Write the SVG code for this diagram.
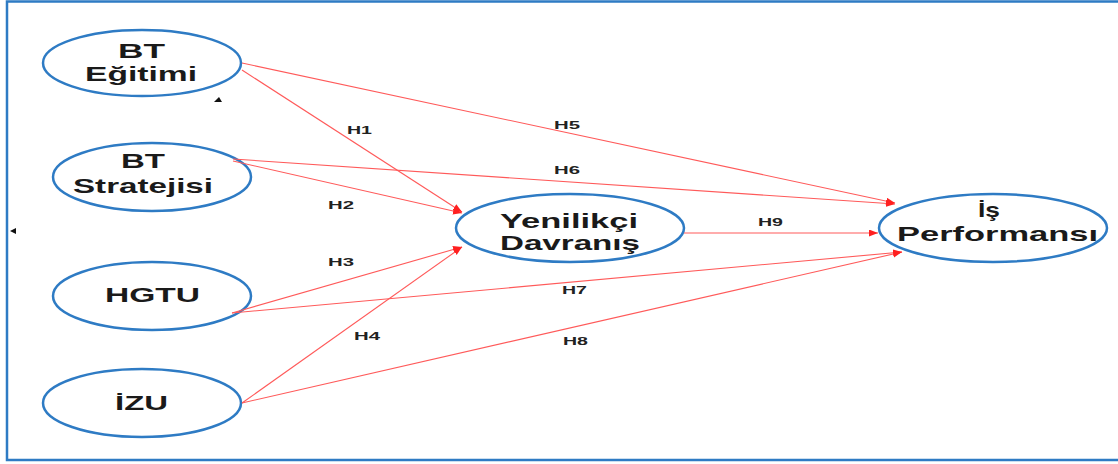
<svg xmlns="http://www.w3.org/2000/svg" width="1118" height="464" viewBox="0 0 1118 464">
<defs>
<marker id="arr" markerUnits="userSpaceOnUse" markerWidth="10" markerHeight="8" refX="9" refY="3.5" orient="auto">
<path d="M0,0 L9,3.5 L0,7 z" fill="#ff2020"/>
</marker>
<style>
.node ellipse{fill:#fff;stroke:#2e7bc4;stroke-width:2.5}
.node text{font-family:"Liberation Sans",Arial,sans-serif;font-weight:bold;font-size:21px;fill:#1a1a1a}
.conn line{stroke:#ff5a5a;stroke-width:1.1;marker-end:url(#arr)}
.lbl{font-family:"Liberation Sans",Arial,sans-serif;font-weight:bold;font-size:11px;fill:#222}
</style>
</defs>
<rect width="1118" height="464" fill="#fff"/>
<path d="M1120,1.5 H7 V460 H1120" fill="none" stroke="#2e7bc4" stroke-width="2.5"/>
<polygon points="10,231 16,228 16,234" fill="#111"/>
<polygon points="214,102 219,97 222,102" fill="#111"/>
<g id="bt-egitimi" class="node">
<ellipse cx="142" cy="63" rx="99" ry="33"/>
<text x="118" y="58" textLength="47" lengthAdjust="spacingAndGlyphs">BT</text>
<text x="85" y="81" textLength="112" lengthAdjust="spacingAndGlyphs">Eğitimi</text>
</g>
<g id="bt-stratejisi" class="node">
<ellipse cx="152" cy="177" rx="99" ry="34"/>
<text x="121" y="168" textLength="44" lengthAdjust="spacingAndGlyphs">BT</text>
<text x="73" y="193" textLength="140" lengthAdjust="spacingAndGlyphs">Stratejisi</text>
</g>
<g id="hgtu" class="node">
<ellipse cx="152" cy="296" rx="99" ry="34"/>
<text x="105" y="302" textLength="95" lengthAdjust="spacingAndGlyphs">HGTU</text>
</g>
<g id="izu" class="node">
<ellipse cx="142" cy="403" rx="99" ry="34"/>
<text x="115" y="410" textLength="53" lengthAdjust="spacingAndGlyphs">İZU</text>
</g>
<g id="yenilikci" class="node">
<ellipse cx="570" cy="228" rx="114" ry="34"/>
<text x="500" y="228" textLength="138" lengthAdjust="spacingAndGlyphs">Yenilikçi</text>
<text x="500" y="250" textLength="140" lengthAdjust="spacingAndGlyphs">Davranış</text>
</g>
<g id="is-performansi" class="node">
<ellipse cx="993" cy="228" rx="114" ry="34"/>
<text x="978" y="217" textLength="22" lengthAdjust="spacingAndGlyphs">İş</text>
<text x="897" y="241" textLength="201" lengthAdjust="spacingAndGlyphs">Performansı</text>
</g>
<g class="conn">
<line x1="242" y1="70" x2="462" y2="212"/>
<line x1="233" y1="161" x2="462" y2="213"/>
<line x1="242" y1="63" x2="895" y2="203"/>
<line x1="233" y1="159" x2="895" y2="204"/>
<line x1="232" y1="313" x2="462" y2="247"/>
<line x1="232" y1="313" x2="902" y2="252"/>
<line x1="242" y1="403" x2="462" y2="247"/>
<line x1="242" y1="403" x2="902" y2="252"/>
<line x1="684" y1="233" x2="878" y2="233"/>
</g>
<g id="labels">
<text class="lbl" x="347" y="134" textLength="25" lengthAdjust="spacingAndGlyphs">H1</text>
<text class="lbl" x="328" y="209" textLength="26" lengthAdjust="spacingAndGlyphs">H2</text>
<text class="lbl" x="328" y="266" textLength="26" lengthAdjust="spacingAndGlyphs">H3</text>
<text class="lbl" x="354" y="340" textLength="26" lengthAdjust="spacingAndGlyphs">H4</text>
<text class="lbl" x="554" y="129" textLength="26" lengthAdjust="spacingAndGlyphs">H5</text>
<text class="lbl" x="554" y="174" textLength="26" lengthAdjust="spacingAndGlyphs">H6</text>
<text class="lbl" x="562" y="294" textLength="25" lengthAdjust="spacingAndGlyphs">H7</text>
<text class="lbl" x="563" y="345" textLength="25" lengthAdjust="spacingAndGlyphs">H8</text>
<text class="lbl" x="758" y="226" textLength="25" lengthAdjust="spacingAndGlyphs">H9</text>
</g>
</svg>
